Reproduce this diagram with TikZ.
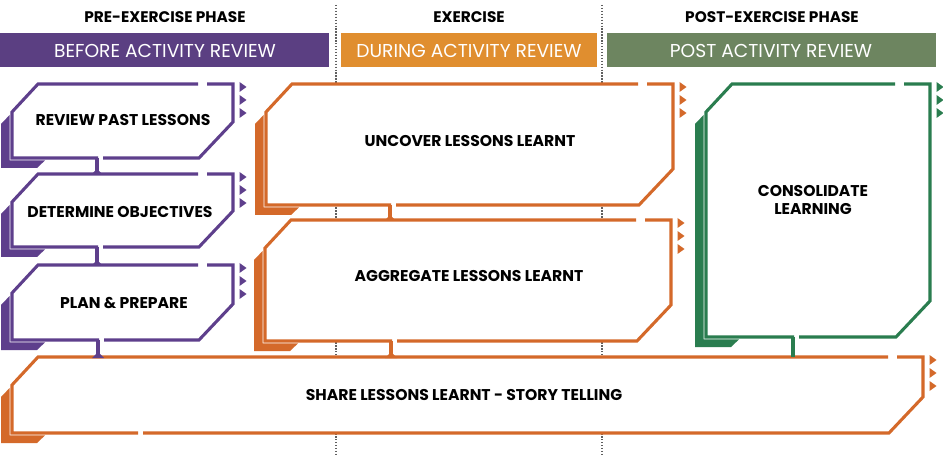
\documentclass[tikz,border=0pt]{standalone}
\usepackage{fontspec}
\setmainfont{Poppins}
\definecolor{pur}{HTML}{5E3F8C}
\definecolor{purb}{HTML}{5B3F82}
\definecolor{ora}{HTML}{D4692A}
\definecolor{orab}{HTML}{E08E2F}
\definecolor{grn}{HTML}{2A7D4F}
\definecolor{grnb}{HTML}{6D8560}
\definecolor{dotc}{HTML}{606060}
\tikzset{
  boxline/.style={line width=2.3pt, line join=miter, line cap=butt},
  lbl/.style={font=\bfseries\fontsize{11.7pt}{12.8pt}\selectfont, text=black, align=center, inner sep=0pt},
  bantxt/.style={font=\fontsize{14pt}{16pt}\selectfont, text=white, inner sep=0pt},
  headtxt/.style={font=\bfseries\fontsize{11.5pt}{13pt}\selectfont, text=black, inner sep=0pt},
  dotline/.style={dotc, line width=1pt, dash pattern=on 1pt off 1.2pt},
  conn/.style={line width=2.3pt}
}
% L T R B gapx color
\newcommand\actbox[6]{%
  \fill[#6] (#1-2.4,#2+31) -- (#1-11,#2+40) -- (#1-11,#4+10) -- (#1+25,#4+10) -- (#1+33,#4+2.4) -- (#1-2.4,#4+2.4) -- cycle;
  \fill[white] (#1+26,#2) -- (#3,#2) -- (#3,#4-36) -- (#3-34,#4) -- (#1,#4) -- (#1,#2+28) -- cycle;
  \draw[#6, boxline] (#5+6,#4) -- (#3-34,#4) -- (#3,#4-36) -- (#3,#2) -- (#3-26,#2);
  \draw[#6, boxline] (#3-35,#2) -- (#1+26,#2) -- (#1,#2+28) -- (#1,#4) -- (#5+1.1,#4);
  \foreach \yy in {3,16,29} {\fill[#6] (#3+6.5,#2+\yy-5) -- (#3+13.5,#2+\yy) -- (#3+6.5,#2+\yy+5) -- cycle;}
}
\newcommand\bump[3]{% x y color
  \fill[#3] (#1-6,#2+1) -- (#1+6,#2+1) -- (#1+1.5,#2-3.5) -- (#1-1.5,#2-3.5) -- cycle;
}
\begin{document}
\begin{tikzpicture}[x=0.75pt,y=-0.75pt]
\useasboundingbox (0,0) rectangle (943,456);
\fill[white] (0,0) rectangle (943,456);
% dotted phase separators
\coordinate (d1t) at (336,5); \coordinate (d1b) at (336,456);
\coordinate (d2t) at (602,5); \coordinate (d2b) at (602,456);
\draw[dotline] (d1t) -- (d1b);
\draw[dotline] (d2t) -- (d2b);
% header
\node[headtxt] (h1) at (165,17) {PRE-EXERCISE PHASE};
\node[headtxt] (h2) at (469,17) {EXERCISE};
\node[headtxt] (h3) at (772,17) {POST-EXERCISE PHASE};
\fill[purb] (0,33) rectangle (329,67);
\fill[orab] (341,33) rectangle (597,67);
\fill[grnb] (607,33) rectangle (936,67);
\node[bantxt] (b1) at (165,51) {BEFORE ACTIVITY REVIEW};
\node[bantxt] (b2) at (469,51) {DURING ACTIVITY REVIEW};
\node[bantxt] (b3) at (771,51) {POST ACTIVITY REVIEW};
% boxes
\actbox{12}{84}{233}{158}{97}{pur}
\actbox{12}{174}{233}{247}{97}{pur}
\actbox{12}{265}{233}{340}{98}{pur}
\actbox{266}{84}{673}{205}{390}{ora}
\actbox{265}{220}{671}{341}{391}{ora}
\actbox{706}{84}{930}{337}{793}{grn}
\actbox{12}{357}{923}{433}{137}{ora}
% labels
\node[lbl] (review) at (123,120) {REVIEW PAST LESSONS};
\node[lbl] (determine) at (120,212) {DETERMINE OBJECTIVES};
\node[lbl] (plan) at (124,303) {PLAN \& PREPARE};
\node[lbl] (uncover) at (470,141) {UNCOVER LESSONS LEARNT};
\node[lbl] (aggregate) at (469,276) {AGGREGATE LESSONS LEARNT};
\node[lbl] (consolidate) at (813,200) {CONSOLIDATE\\LEARNING};
\node[lbl] (share) at (464,395) {SHARE LESSONS LEARNT - STORY TELLING};
% connectors
\coordinate (c1a) at (97,158); \coordinate (c1b) at (97,174);
\coordinate (c2a) at (97,247); \coordinate (c2b) at (97,265);
\coordinate (c3a) at (98,340); \coordinate (c3b) at (98,357);
\coordinate (c4a) at (390,205); \coordinate (c4b) at (390,220);
\coordinate (c5a) at (391,341); \coordinate (c5b) at (391,357);
\coordinate (c6a) at (793,337); \coordinate (c6b) at (793,357);
\draw[pur, conn] (c1a) -- (c1b); \bump{97}{174}{pur}
\draw[pur, conn] (c2a) -- (c2b); \bump{97}{265}{pur}
\draw[pur, conn] (c3a) -- (c3b); \bump{98}{357}{pur}
\draw[ora, conn] (c4a) -- (c4b); \bump{390}{220}{ora}
\draw[ora, conn] (c5a) -- (c5b); \bump{391}{357}{ora}
\draw[grn, conn] (c6a) -- (c6b);
\end{tikzpicture}
\end{document}
